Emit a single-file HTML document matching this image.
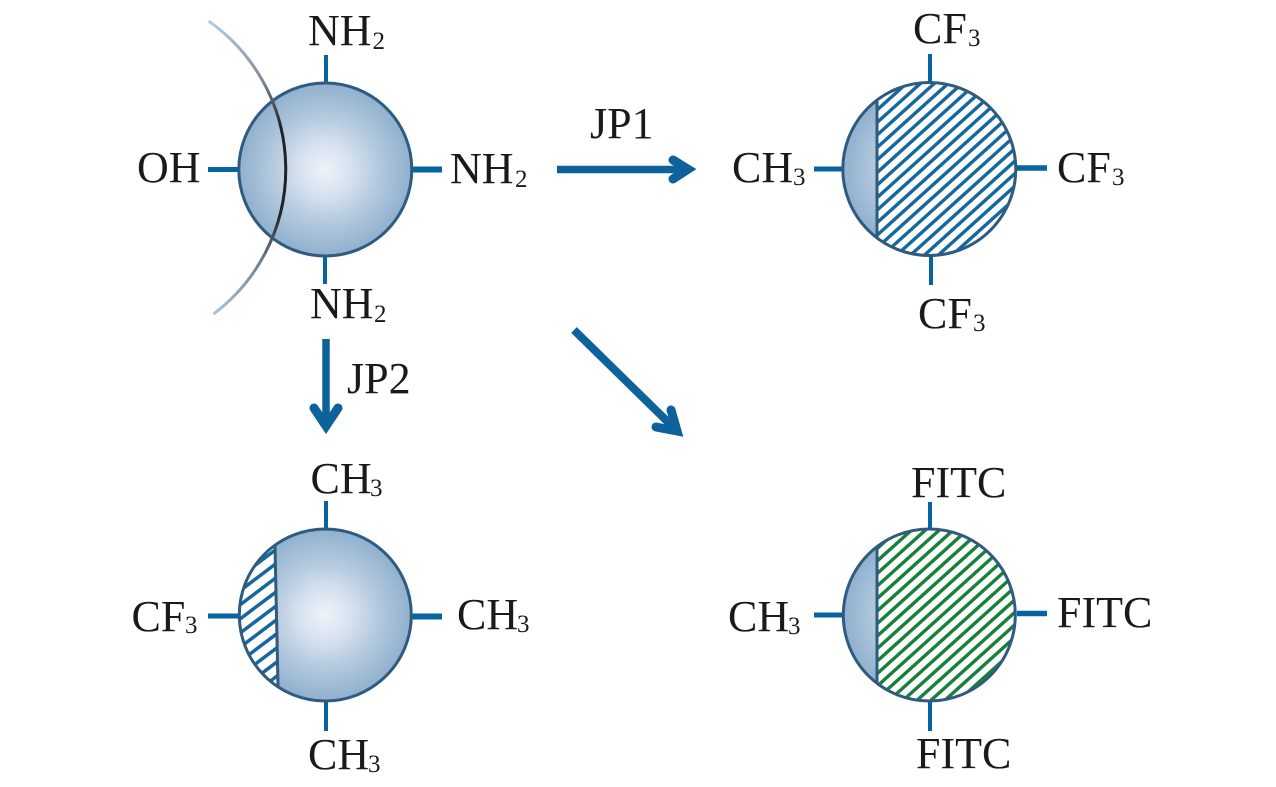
<!DOCTYPE html>
<html>
<head>
<meta charset="utf-8">
<style>
html,body{margin:0;padding:0;background:#fff;width:1276px;height:787px;overflow:hidden}
svg{display:block}
text{font-family:"Liberation Serif",serif;font-size:44px;fill:#1a1a1a}
text.s{font-size:25px}
.t{stroke:#05659f;fill:none}
.o{fill:none;stroke:#2f5b80;stroke-width:3}
.l{fill:none;stroke:#0d629b;stroke-width:7.5;stroke-linecap:butt}
.a{fill:none;stroke:#0d629b;stroke-width:9;stroke-linecap:round;stroke-linejoin:miter;stroke-miterlimit:10}
</style>
</head>
<body>
<svg width="1276" height="787" viewBox="0 0 1276 787" xmlns="http://www.w3.org/2000/svg">
<defs>
<radialGradient id="g" cx="50%" cy="50%" r="50%">
<stop offset="0" stop-color="#eef2f9"/>
<stop offset=".3" stop-color="#d7e2ef"/>
<stop offset=".6" stop-color="#b5cadf"/>
<stop offset="1" stop-color="#8fb0ce"/>
</radialGradient>
<linearGradient id="arc" gradientUnits="userSpaceOnUse" x1="0" y1="21" x2="0" y2="314">
<stop offset="0" stop-color="#b5cde3"/>
<stop offset=".2" stop-color="#7d8a98"/>
<stop offset=".36" stop-color="#222226"/>
<stop offset=".66" stop-color="#222226"/>
<stop offset=".82" stop-color="#6f7d8c"/>
<stop offset="1" stop-color="#a9c4de"/>
</linearGradient>
<clipPath id="c2"><circle cx="929.300" cy="169" r="86.500"/></clipPath>
<clipPath id="c3"><circle cx="929.300" cy="615" r="86"/></clipPath>
<clipPath id="c4"><circle cx="325.300" cy="615" r="86"/></clipPath>
<clipPath id="r2"><rect x="877" y="80" width="145" height="180"/></clipPath>
<clipPath id="r3"><rect x="877" y="525" width="145" height="180"/></clipPath>
<clipPath id="r4"><polygon points="235,520 275.500,520 278.500,710 235,710"/></clipPath>
</defs>

<!-- Circle 1 -->
<path class="t" stroke-width="4" d="M326 55V84"/>
<path class="t" stroke-width="4" d="M325 255V284"/>
<path class="t" stroke-width="5" d="M208 169.500H238"/>
<path class="t" stroke-width="6" d="M412 169.500H442"/>
<circle cx="325.300" cy="169.500" r="86.500" fill="url(#g)"/>
<circle cx="325.300" cy="169.500" r="86.500" class="o"/>
<path d="M208.500 21A181 181 0 0 1 213.500 314" fill="none" stroke="url(#arc)" stroke-width="3"/>

<text x="308" y="45">NH</text><text class="s" x="372.500" y="49">2</text>
<text x="137" y="182">OH</text>
<text x="450" y="183">NH</text><text class="s" x="515" y="187">2</text>
<text x="310" y="318">NH</text><text class="s" x="374" y="322">2</text>

<!-- Circle 2 -->
<path class="t" stroke-width="4" d="M930 54V84"/>
<path class="t" stroke-width="4" d="M931 255V285"/>
<path class="t" stroke-width="5" d="M814 169H843"/>
<path class="t" stroke-width="5.500" d="M1017 168H1047"/>
<circle cx="929.300" cy="169" r="86.500" fill="url(#g)"/>
<g clip-path="url(#c2)"><g clip-path="url(#r2)">
<rect x="877" y="80" width="145" height="180" fill="#fff"/>
<path d="M847.700 84.100L1021.600 277" fill="none" stroke="#15689f" stroke-width="400" stroke-dasharray="3.400 5.900"/>
</g></g>
<path d="M877 101V237" stroke="#2f5b80" stroke-width="3" fill="none"/>
<circle cx="929.300" cy="169" r="86.500" class="o"/>

<text x="913" y="43">CF</text><text class="s" x="968" y="46">3</text>
<text x="732" y="182">CH</text><text class="s" x="793" y="185">3</text>
<text x="1057" y="182">CF</text><text class="s" x="1112" y="185">3</text>
<text x="918" y="328">CF</text><text class="s" x="973" y="331">3</text>

<!-- Circle 3 -->
<path class="t" stroke-width="4" d="M930 502V531"/>
<path class="t" stroke-width="4" d="M930 700V731"/>
<path class="t" stroke-width="5" d="M814 615H843"/>
<path class="t" stroke-width="5.500" d="M1017 613.500H1047"/>
<circle cx="929.300" cy="615" r="86" fill="url(#g)"/>
<g clip-path="url(#c3)"><g clip-path="url(#r3)">
<rect x="877" y="525" width="145" height="180" fill="#fff"/>
<path d="M846.700 536.100L1020.600 729.300" fill="none" stroke="#17803a" stroke-width="400" stroke-dasharray="3.400 5.900"/>
</g></g>
<path d="M877 547V683" stroke="#2f5b80" stroke-width="3" fill="none"/>
<circle cx="929.300" cy="615" r="86" class="o"/>

<text x="911" y="497">FITC</text>
<text x="728" y="631">CH</text><text class="s" x="788" y="634">3</text>
<text x="1057" y="627">FITC</text>
<text x="916" y="768">FITC</text>

<!-- Circle 4 -->
<path class="t" stroke-width="4" d="M326 501V531"/>
<path class="t" stroke-width="4" d="M326 700V731"/>
<path class="t" stroke-width="5" d="M208 616H238"/>
<path class="t" stroke-width="6" d="M412 616.500H442"/>
<circle cx="325.300" cy="615" r="86" fill="url(#g)"/>
<g clip-path="url(#c4)"><g clip-path="url(#r4)">
<rect x="235" y="520" width="45" height="190" fill="#fff"/>
<path d="M251.800 537.200L372.200 697" fill="none" stroke="#15689f" stroke-width="300" stroke-dasharray="3.500 7.800"/>
</g></g>
<path d="M275 546L278 686" stroke="#2f5b80" stroke-width="3" fill="none"/>
<circle cx="325.300" cy="615" r="86" class="o"/>

<text x="310.500" y="493">CH</text><text class="s" x="370" y="496">3</text>
<text x="131.500" y="631">CF</text><text class="s" x="185" y="633">3</text>
<text x="457" y="629">CH</text><text class="s" x="517" y="632">3</text>
<text x="308" y="769">CH</text><text class="s" x="368" y="772">3</text>

<!-- Arrows -->
<path class="l" d="M557 169.500H688"/>
<polyline class="a" points="673,160 688,169.200 673,179"/>
<path class="l" d="M326 339V425"/>
<polyline class="a" points="314,408 326,426 338,408"/>
<path class="l" style="stroke-width:8" d="M574 330L674 428"/>
<polyline class="a" points="671,410 677,431 656,427"/>

<text x="590" y="138">JP1</text>
<text x="347" y="393">JP2</text>
</svg>
</body>
</html>
